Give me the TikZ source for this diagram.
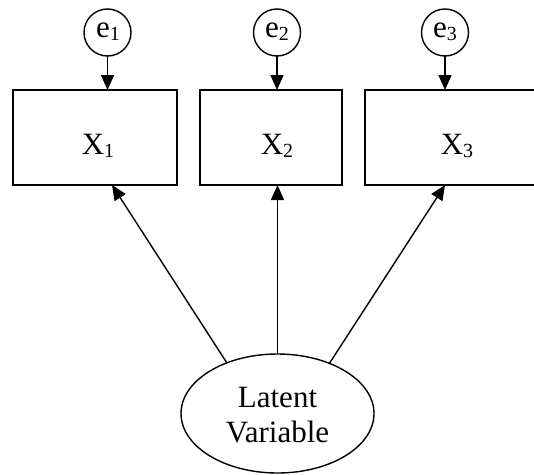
\documentclass[tikz,border=0pt]{standalone}
\usepackage{fontspec}
\setmainfont{Liberation Serif}
\usetikzlibrary{shapes.geometric,arrows.meta}
\newcommand\subnum[1]{\raisebox{-3pt}{\fontsize{20}{20}\selectfont #1}}
\begin{document}
\begin{tikzpicture}[x=1pt,y=-1pt,
  every node/.style={inner sep=0pt,outer sep=0pt},
  obs/.style={draw,line width=1.6pt,rectangle,minimum height=95pt},
  err/.style={draw,line width=1.4pt,circle,minimum size=47pt},
  lat/.style={draw,line width=1.4pt,ellipse,minimum width=193pt,minimum height=119pt},
  lbl/.style={anchor=base,font=\fontsize{31}{35}\selectfont},
  arr/.style={line width=1.4pt,-{Triangle[length=15pt,width=13pt]}}]
\useasboundingbox (0,0) rectangle (534,474);
\clip (0,0) rectangle (534,474);
\node[obs,minimum width=164pt] (b1) at (95,137.5) {};
\node[obs,minimum width=142pt] (b2) at (271,137.5) {};
\node[obs,minimum width=175pt] (b3) at (452.5,137.5) {};
\node[lbl] (t1) at (98,154) {X\subnum{1}};
\node[lbl] (t2) at (277,154) {X\subnum{2}};
\node[lbl] (t3) at (457,154) {X\subnum{3}};
\node[err] (e1) at (107.5,32.5) {};
\node[err] (e2) at (277,32.5) {};
\node[err] (e3) at (445,32.5) {};
\node[lbl] (te1) at (108,37) {e\subnum{1}};
\node[lbl] (te2) at (277,37) {e\subnum{2}};
\node[lbl] (te3) at (445,37) {e\subnum{3}};
\node[lat] (lv) at (277.5,413.5) {};
\node[lbl,align=center] (tlv) at (277.5,442) {Latent\\Variable};
\draw[arr] (e1) -- (e1 |- b1.north);
\draw[arr] (e2) -- (e2 |- b2.north);
\draw[arr] (e3) -- (e3 |- b3.north);
\draw[arr] (lv.135) -- ([xshift=17pt]b1.south);
\draw[arr] (lv.north) -- (lv.north |- b2.south);
\draw[arr] (lv.44) -- ([xshift=-7.5pt]b3.south);
\end{tikzpicture}
\end{document}
